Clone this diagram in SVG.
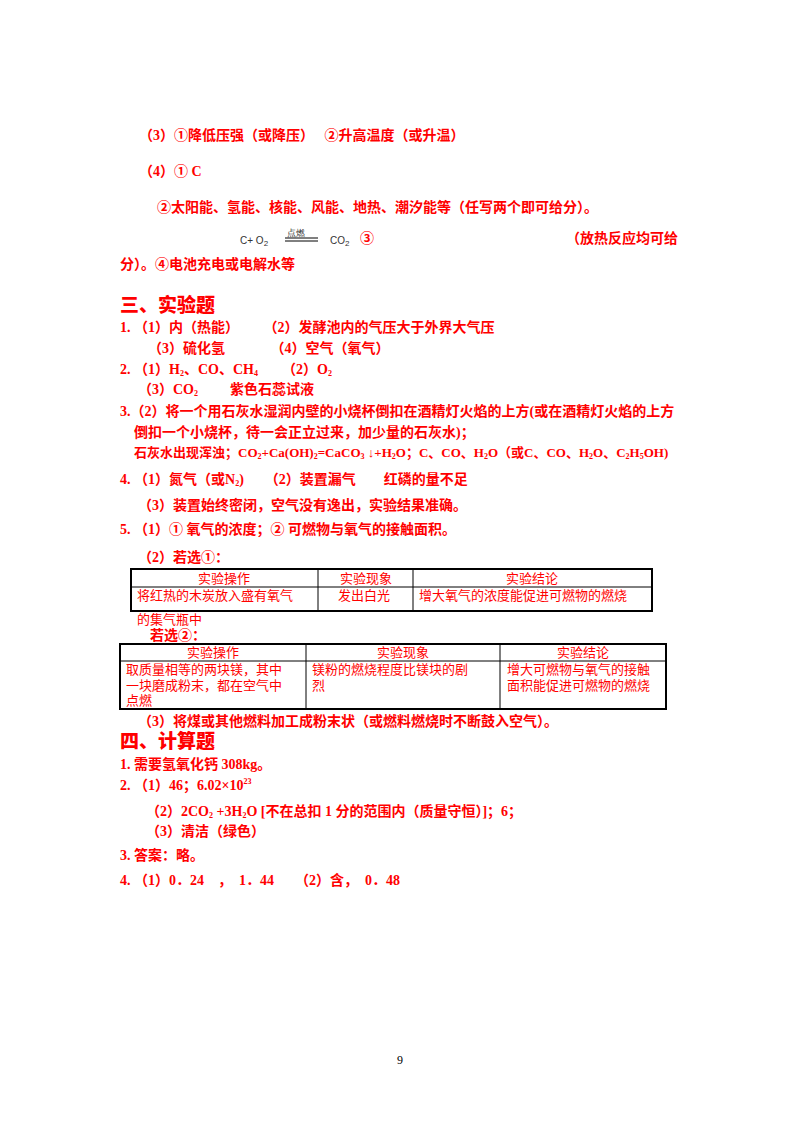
<svg xmlns="http://www.w3.org/2000/svg" width="800" height="1132" viewBox="0 0 800 1132">
<style>
text{font-family:"Liberation Serif","Noto Sans CJK SC",serif;fill:#ff0000;font-size:14px;font-weight:bold}
.h{font-size:19px;font-family:"Noto Sans CJK SC",sans-serif;font-weight:900}
.c{font-family:"Noto Sans CJK SC",sans-serif;font-weight:normal;font-size:13px}
.k{fill:#333;font-weight:normal;font-family:"Liberation Sans",sans-serif;font-size:10px}
.t{fill:none;stroke:#000;stroke-width:2}
.tl{stroke:#000;stroke-width:1}
.s{font-size:8px}
</style>
<rect width="800" height="1132" fill="#fff"/>
<text x="139" y="140">（3）①降低压强（或降压）　 ②升高温度（或升温）</text>
<text x="139" y="176">（4）① C</text>
<text x="157" y="212">②太阳能、氢能、核能、风能、地热、潮汐能等（任写两个即可给分）。</text>
<g>
<text class="k" x="240" y="244">C+  O<tspan class="s" dy="2">2</tspan></text>
<text class="k" x="287" y="236" style="font-size:9px">点燃</text>
<line class="tl" x1="285" y1="238" x2="318" y2="238" stroke-width="0.8"/>
<line class="tl" x1="285" y1="241" x2="318" y2="241" stroke-width="0.8"/>
<text class="k" x="330" y="244">CO<tspan class="s" dy="2">2</tspan></text>
</g>
<text x="360" y="243">③</text>
<text x="566" y="243">（放热反应均可给</text>
<text x="120" y="269">分）。④电池充电或电解水等</text>
<text class="h" x="120" y="312">三、实验题</text>
<text x="120" y="332">1. （1）内（热能）　　 （2）发酵池内的气压大于外界大气压</text>
<text x="148" y="353">（3）硫化氢　　　 （4）空气（氧气）</text>
<text x="120" y="374">2. （1）H<tspan class="s" dy="2">2</tspan><tspan dy="-2">、CO、CH</tspan><tspan class="s" dy="2">4</tspan><tspan dy="-2" x="282">（2）O</tspan><tspan class="s" dy="2">2</tspan></text>
<text x="138" y="394">（3）CO<tspan class="s" dy="2">2</tspan><tspan dy="-2" x="230">紫色石蕊试液</tspan></text>
<text x="120" y="416">3.（2）将一个用石灰水湿润内壁的小烧杯倒扣在酒精灯火焰的上方(或在酒精灯火焰的上方</text>
<text x="134" y="437">倒扣一个小烧杯，待一会正立过来，加少量的石灰水)；</text>
<text x="134" y="457" style="font-size:13px">石灰水出现浑浊；CO<tspan class="s" dy="2">2</tspan><tspan dy="-2">+Ca(OH)</tspan><tspan class="s" dy="2">2</tspan><tspan dy="-2">=CaCO</tspan><tspan class="s" dy="2">3</tspan><tspan dy="-2"> ↓+H</tspan><tspan class="s" dy="2">2</tspan><tspan dy="-2">O；C、CO、H</tspan><tspan class="s" dy="2">2</tspan><tspan dy="-2">O（或C、CO、H</tspan><tspan class="s" dy="2">2</tspan><tspan dy="-2">O、C</tspan><tspan class="s" dy="2">2</tspan><tspan dy="-2">H</tspan><tspan class="s" dy="2">5</tspan><tspan dy="-2">OH)</tspan></text>
<text x="120" y="484">4. （1）氮气（或N<tspan class="s" dy="2">2</tspan><tspan dy="-2">)　　（2）装置漏气　　红磷的量不足</tspan></text>
<text x="138" y="510">（3）装置始终密闭，空气没有逸出，实验结果准确。</text>
<text x="120" y="534">5. （1）① 氧气的浓度；② 可燃物与氧气的接触面积。</text>
<text x="138" y="562">（2）若选①：</text>
<g id="table1">
<rect class="t" x="131" y="569" width="521" height="42"/>
<line class="tl" x1="131" y1="587" x2="652" y2="587"/>
<line class="tl" x1="318" y1="569" x2="318" y2="611"/>
<line class="tl" x1="413" y1="569" x2="413" y2="611"/>
<text class="c" x="224" y="583" text-anchor="middle">实验操作</text>
<text class="c" x="366" y="583" text-anchor="middle">实验现象</text>
<text class="c" x="532" y="583" text-anchor="middle">实验结论</text>
<text class="c" x="137" y="600">将红热的木炭放入盛有氧气</text>
<text class="c" x="137" y="608" dy="0" style="font-size:0"/>
<text class="c" x="338" y="600">发出白光</text>
<text class="c" x="419" y="600">增大氧气的浓度能促进可燃物的燃烧</text>
</g>
<text class="c" x="137" y="624">的集气瓶中</text>
<text x="150" y="640">若选②：</text>
<g id="table2">
<rect class="t" x="120" y="644" width="546" height="65"/>
<line class="tl" x1="120" y1="661" x2="666" y2="661"/>
<line class="tl" x1="306" y1="644" x2="306" y2="709"/>
<line class="tl" x1="500" y1="644" x2="500" y2="709"/>
<text class="c" x="213" y="657" text-anchor="middle">实验操作</text>
<text class="c" x="403" y="657" text-anchor="middle">实验现象</text>
<text class="c" x="583" y="657" text-anchor="middle">实验结论</text>
<text class="c" x="126" y="674">取质量相等的两块镁，其中</text>
<text class="c" x="126" y="690">一块磨成粉末，都在空气中</text>
<text class="c" x="126" y="705">点燃</text>
<text class="c" x="312" y="674">镁粉的燃烧程度比镁块的剧</text>
<text class="c" x="312" y="690">烈</text>
<text class="c" x="507" y="674">增大可燃物与氧气的接触</text>
<text class="c" x="507" y="690">面积能促进可燃物的燃烧</text>
</g>
<text x="138" y="726">（3）将煤或其他燃料加工成粉末状（或燃料燃烧时不断鼓入空气）。</text>
<text class="h" x="120" y="748">四、计算题</text>
<text x="120" y="769">1. 需要氢氧化钙 308kg。</text>
<text x="120" y="790">2. （1）46；6.02×10<tspan class="s" dy="-6">23</tspan></text>
<text x="146" y="816">（2）2CO<tspan class="s" dy="2">2</tspan><tspan dy="-2"> +3H</tspan><tspan class="s" dy="2">2</tspan><tspan dy="-2">O [不在总扣 1 分的范围内（质量守恒）]；6；</tspan></text>
<text x="146" y="836">（3）清洁（绿色）</text>
<text x="120" y="860">3. 答案：略。</text>
<text x="120" y="885">4. （1）0．24　，　1．44　　（2）含，　0．48</text>
<text x="400" y="1064" text-anchor="middle" style="fill:#000;font-weight:normal;font-size:12px">9</text>
</svg>
